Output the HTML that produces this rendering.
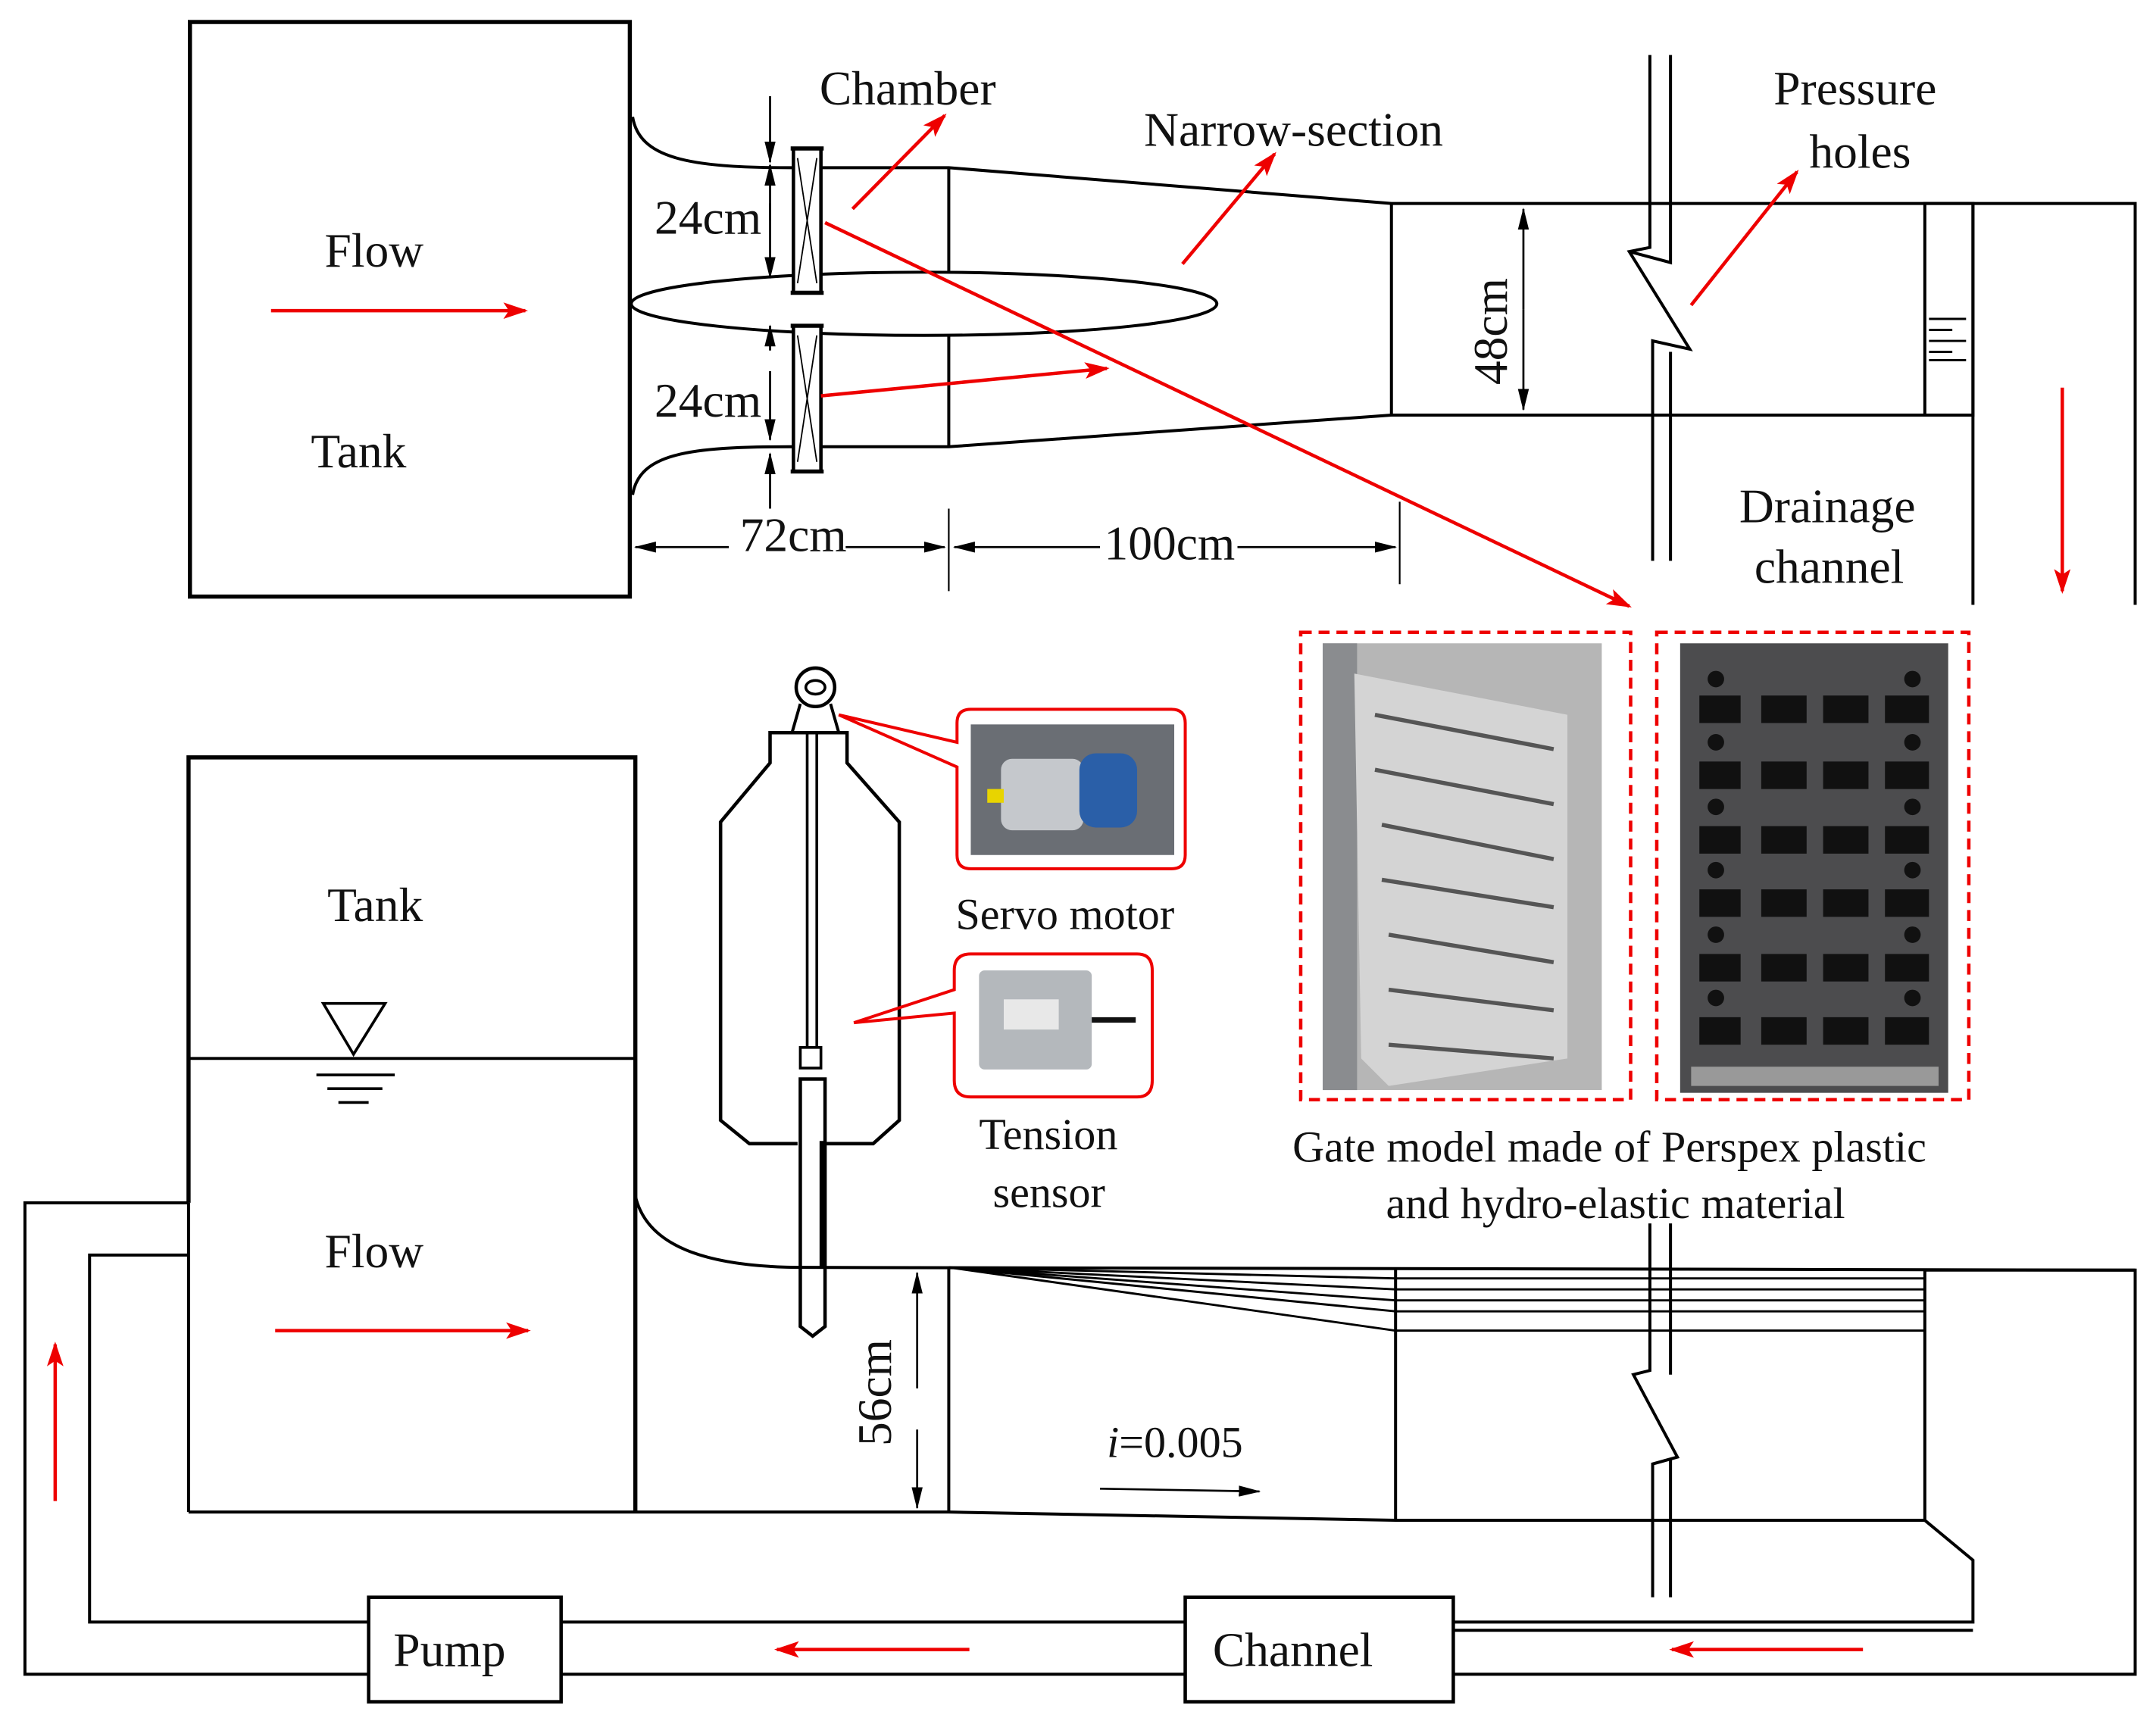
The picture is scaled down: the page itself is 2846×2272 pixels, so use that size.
<!DOCTYPE html>
<html><head><meta charset="utf-8"><style>
html,body{margin:0;padding:0;background:#fff}
svg{display:block}
text{font-family:"Liberation Serif",serif;fill:#111}
</style></head><body>
<svg width="2846" height="2272" viewBox="0 0 1568 1252" xmlns="http://www.w3.org/2000/svg">
<defs>
<marker id="ra" markerWidth="18" markerHeight="12" refX="16" refY="6" orient="auto" markerUnits="userSpaceOnUse"><path d="M0,0 L18,6 L0,12 L4,6 z" fill="#e00"/></marker>
<marker id="ba" markerWidth="16" markerHeight="8" refX="15" refY="4" orient="auto" markerUnits="userSpaceOnUse"><path d="M0,0 L16,4 L0,8 z" fill="#000"/></marker>
</defs>
<g fill="none" stroke="#000" stroke-width="2.2">
<!-- top tank -->
<rect x="138" y="16" width="320" height="418" stroke-width="3"/>
<path d="M460,85 C465,115 500,122 575,122 L690,122 L1012,148 L1553,148 L1553,440"/>
<path d="M460,360 C465,330 500,325 575,325 L690,325 L1012,302 L1435,302"/>
<line x1="690" y1="122" x2="690" y2="325"/>
<ellipse cx="672" cy="221" rx="213" ry="23" fill="#fff"/>
<line x1="1012" y1="148" x2="1012" y2="302"/>
<rect x="1400" y="148" width="35" height="154"/>
<line x1="1435" y1="148" x2="1435" y2="440"/>
<path d="M1403,232 H1430 M1403,240 H1420 M1403,248 H1430 M1403,256 H1420 M1403,262 H1430" stroke-width="1.6"/>
<!-- break lines top -->
<rect x="1201" y="150" width="13" height="110" fill="#fff" stroke="none"/>
<path d="M1200,40 V180 L1185,183 L1229,254 L1202,248 V408"/>
<path d="M1215,40 V191 L1185,183 M1215,256 V408"/>
<!-- gates top -->
<rect x="577" y="108" width="20" height="105" stroke-width="2.5" fill="#fff"/>
<rect x="577" y="237" width="20" height="106" stroke-width="2.5" fill="#fff"/>
<path d="M575,108 H599 M575,213 H599 M575,237 H599 M575,343 H599" stroke-width="3"/>
<path d="M580,115 L594,206 M594,115 L580,206 M580,244 L594,336 M594,244 L580,336" stroke-width="1"/>
<!-- dims top -->
<line x1="560" y1="70" x2="560" y2="118" stroke-width="1.5" marker-end="url(#ba)"/>
<line x1="560" y1="148" x2="560" y2="202" stroke-width="1.5" marker-end="url(#ba)"/>
<line x1="560" y1="160" x2="560" y2="120" stroke-width="1.5" marker-end="url(#ba)"/>
<line x1="560" y1="255" x2="560" y2="237" stroke-width="1.5" marker-end="url(#ba)"/>
<line x1="560" y1="270" x2="560" y2="320" stroke-width="1.5" marker-end="url(#ba)"/>
<line x1="560" y1="370" x2="560" y2="330" stroke-width="1.5" marker-end="url(#ba)"/>
<line x1="1108" y1="225" x2="1108" y2="152" stroke-width="1.5" marker-end="url(#ba)"/>
<line x1="1108" y1="225" x2="1108" y2="298" stroke-width="1.5" marker-end="url(#ba)"/>
<line x1="530" y1="398" x2="462" y2="398" stroke-width="1.5" marker-end="url(#ba)"/>
<line x1="615" y1="398" x2="687" y2="398" stroke-width="1.5" marker-end="url(#ba)"/>
<line x1="800" y1="398" x2="694" y2="398" stroke-width="1.5" marker-end="url(#ba)"/>
<line x1="900" y1="398" x2="1015" y2="398" stroke-width="1.5" marker-end="url(#ba)"/>
<line x1="690" y1="370" x2="690" y2="430" stroke-width="1.2"/>
<line x1="1018" y1="365" x2="1018" y2="425" stroke-width="1.2"/>
<!-- bottom -->
<path d="M137,875 V551 H462 V1100" stroke-width="3"/>
<line x1="137" y1="770" x2="462" y2="770"/>
<path d="M137,875 H18 V1218 H268"/>
<path d="M137,913 H65 V1180 H268"/>
<line x1="137" y1="875" x2="137" y2="1100"/>
<path d="M137,1100 H690 L1015,1106 H1400 L1435,1135 V1180 H1057"/>
<path d="M408,1180 H862 M408,1218 H862"/>
<path d="M1057,1218 H1553 V924 H1400"/>
<path d="M1057,1186 H1435"/>
<rect x="268" y="1162" width="140" height="76" stroke-width="2.5"/>
<rect x="862" y="1162" width="195" height="76" stroke-width="2.5"/>
<path d="M462,870 C470,905 510,922 585,922 L1553,924"/>
<line x1="690" y1="922" x2="690" y2="1100"/>
<line x1="1015" y1="922" x2="1015" y2="1106"/>
<line x1="1400" y1="924" x2="1400" y2="1106"/>
<path d="M690,922 L1015,930 H1400 M690,922 L1015,938 H1400 M690,922 L1015,946 H1400 M690,922 L1015,954 H1400 M690,922 L1015,968 H1400" stroke-width="1.6"/>
<rect x="1201" y="990" width="13" height="80" fill="#fff" stroke="none"/>
<path d="M1200,890 V997 L1188,1000 L1220,1060 L1202,1065 V1162"/>
<path d="M1215,890 V1000 M1215,1062 V1162"/>
<!-- water symbol -->
<path d="M235,730 H280 L257,767 z" stroke-width="2"/>
<path d="M230,782 H287 M238,792 H278 M246,802 H268" stroke-width="2"/>
<!-- hoist -->
<circle cx="593" cy="500" r="14" stroke-width="2.5"/>
<ellipse cx="593" cy="500" rx="7" ry="5" stroke-width="2"/>
<path d="M582,512 L576,533 M604,512 L610,533"/>
<path d="M580,832 H545 L524,815 V598 L560,555 V533 H616 V555 L654,598 V815 L635,832 H600" stroke-width="2.5"/>
<path d="M587,533 V762 M594,533 V762" stroke-width="2"/>
<rect x="582" y="762" width="15" height="15" stroke-width="2"/>
<path d="M582,785 H600 V965 L591,972 L582,965 Z" stroke-width="2.5"/>
<line x1="598" y1="830" x2="598" y2="922" stroke-width="4"/>
<!-- dims bottom -->
<line x1="667" y1="1010" x2="667" y2="926" stroke-width="1.5" marker-end="url(#ba)"/>
<line x1="667" y1="1040" x2="667" y2="1097" stroke-width="1.5" marker-end="url(#ba)"/>
<line x1="800" y1="1083" x2="916" y2="1085" stroke-width="1.5" marker-end="url(#ba)"/>
</g>
<!-- red arrows -->
<g stroke="#e00" stroke-width="2.5" fill="none">
<line x1="197" y1="226" x2="382" y2="226" marker-end="url(#ra)"/>
<line x1="620" y1="152" x2="687" y2="84" marker-end="url(#ra)"/>
<line x1="860" y1="192" x2="927" y2="112" marker-end="url(#ra)"/>
<line x1="1230" y1="222" x2="1307" y2="125" marker-end="url(#ra)"/>
<line x1="600" y1="162" x2="1185" y2="441" marker-end="url(#ra)"/>
<line x1="597" y1="288" x2="805" y2="268" marker-end="url(#ra)"/>
<line x1="1500" y1="282" x2="1500" y2="430" marker-end="url(#ra)"/>
<line x1="200" y1="968" x2="384" y2="968" marker-end="url(#ra)"/>
<line x1="40" y1="1092" x2="40" y2="978" marker-end="url(#ra)"/>
<line x1="705" y1="1200" x2="565" y2="1200" marker-end="url(#ra)"/>
<line x1="1355" y1="1200" x2="1216" y2="1200" marker-end="url(#ra)"/>
<!-- callouts -->
<path d="M610,520 L696,540 L696,526 Q696,516 706,516 H852 Q862,516 862,526 V622 Q862,632 852,632 H706 Q696,632 696,622 V558 Z" stroke-width="2.2"/>
<path d="M621,744 L694,720 L694,706 Q694,694 706,694 H827 Q838,694 838,706 V786 Q838,798 827,798 H706 Q694,798 694,786 V737 Z" stroke-width="2.2"/>
<rect x="946" y="460" width="240" height="340" stroke-dasharray="8,5"/>
<rect x="1205" y="460" width="227" height="340" stroke-dasharray="8,5"/>
</g>
<!-- photos -->
<rect x="706" y="527" width="148" height="95" fill="#6a6e74"/>
<rect x="728" y="552" width="60" height="52" rx="8" fill="#c5c8cc"/>
<rect x="785" y="548" width="42" height="54" rx="12" fill="#2a5fa8"/>
<rect x="718" y="574" width="12" height="10" fill="#e8d400"/>
<rect x="712" y="706" width="82" height="72" rx="4" fill="#b4b8bc"/>
<rect x="730" y="727" width="40" height="22" fill="#e8e8e8"/>
<path d="M794,742 H826" stroke="#111" stroke-width="4"/>
<rect x="962" y="468" width="203" height="325" fill="#b6b6b6"/>
<rect x="962" y="468" width="25" height="325" fill="#8a8c8f"/>
<path d="M985,490 L1140,520 L1140,770 L1010,790 L990,770 Z" fill="#d4d4d4"/>
<g stroke="#555" stroke-width="3">
<path d="M1000,520 L1130,545 M1000,560 L1130,585 M1005,600 L1130,625 M1005,640 L1130,660 M1010,680 L1130,700 M1010,720 L1130,735 M1010,760 L1130,770"/>
</g>
<rect x="1222" y="468" width="195" height="327" fill="#4c4c4e"/>
<g fill="#111">
<rect x="1236" y="506" width="30" height="20"/><rect x="1281" y="506" width="33" height="20"/><rect x="1326" y="506" width="33" height="20"/><rect x="1371" y="506" width="32" height="20"/>
<rect x="1236" y="554" width="30" height="20"/><rect x="1281" y="554" width="33" height="20"/><rect x="1326" y="554" width="33" height="20"/><rect x="1371" y="554" width="32" height="20"/>
<rect x="1236" y="601" width="30" height="20"/><rect x="1281" y="601" width="33" height="20"/><rect x="1326" y="601" width="33" height="20"/><rect x="1371" y="601" width="32" height="20"/>
<rect x="1236" y="647" width="30" height="20"/><rect x="1281" y="647" width="33" height="20"/><rect x="1326" y="647" width="33" height="20"/><rect x="1371" y="647" width="32" height="20"/>
<rect x="1236" y="694" width="30" height="20"/><rect x="1281" y="694" width="33" height="20"/><rect x="1326" y="694" width="33" height="20"/><rect x="1371" y="694" width="32" height="20"/>
<rect x="1236" y="740" width="30" height="20"/><rect x="1281" y="740" width="33" height="20"/><rect x="1326" y="740" width="33" height="20"/><rect x="1371" y="740" width="32" height="20"/>
<circle cx="1248" cy="494" r="6"/><circle cx="1391" cy="494" r="6"/>
<circle cx="1248" cy="540" r="6"/><circle cx="1391" cy="540" r="6"/>
<circle cx="1248" cy="587" r="6"/><circle cx="1391" cy="587" r="6"/>
<circle cx="1248" cy="633" r="6"/><circle cx="1391" cy="633" r="6"/>
<circle cx="1248" cy="680" r="6"/><circle cx="1391" cy="680" r="6"/>
<circle cx="1248" cy="726" r="6"/><circle cx="1391" cy="726" r="6"/>
</g>
<rect x="1230" y="776" width="180" height="14" fill="#999"/>
<!-- text -->
<g font-size="35">
<text x="236" y="194">Flow</text>
<text x="226" y="340">Tank</text>
<text x="596" y="76">Chamber</text>
<text x="832" y="106">Narrow-section</text>
<text x="1290" y="76">Pressure</text>
<text x="1316" y="122">holes</text>
<text x="1265" y="380">Drainage</text>
<text x="1276" y="424">channel</text>
<text x="476" y="170">24cm</text>
<text x="476" y="303">24cm</text>
<text x="538" y="401">72cm</text>
<text x="803" y="407">100cm</text>
<text x="1096" y="280" transform="rotate(-90 1096 280)">48cm</text>
<text x="238" y="670">Tank</text>
<text x="236" y="922">Flow</text>
<text x="695" y="676" font-size="32">Servo motor</text>
<text x="712" y="836" font-size="32">Tension</text>
<text x="722" y="878" font-size="32">sensor</text>
<text x="940" y="845" font-size="32">Gate model made of Perspex plastic</text>
<text x="1008" y="886" font-size="32">and hydro-elastic material</text>
<text x="648" y="1052" transform="rotate(-90 648 1052)">56cm</text>
<text x="805" y="1060" font-size="32"><tspan font-style="italic">i</tspan>=0.005</text>
<text x="286" y="1212">Pump</text>
<text x="882" y="1212">Channel</text>
</g>
</svg>
</body></html>
